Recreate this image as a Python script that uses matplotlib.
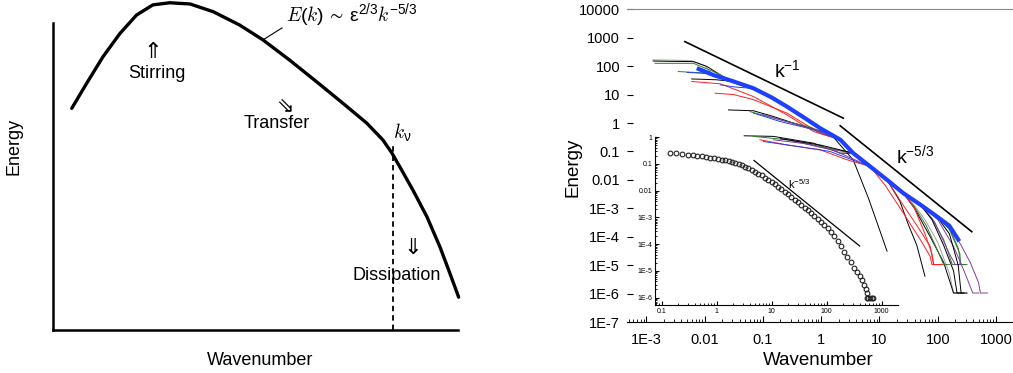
import numpy as np
import matplotlib
matplotlib.use("Agg")
import matplotlib.pyplot as plt

plt.rcParams['font.family'] = ['Liberation Sans', 'DejaVu Sans']
plt.rcParams['mathtext.default'] = 'regular'

# ---- left panel: schematic spectrum (arbitrary units) ----
sketch_k = [0.47, 0.84, 1.24, 1.66, 2.07, 2.47, 2.89, 3.39, 3.96, 4.62, 5.19, 5.85,
            6.52, 7.16, 7.75, 8.15, 8.37, 8.57, 8.89, 9.24, 9.56, 9.80, 10.02]
sketch_E = [7.22, 8.04, 8.90, 9.66, 10.26, 10.59, 10.66, 10.62, 10.37, 9.93, 9.45, 8.79,
            8.08, 7.39, 6.74, 6.19, 5.77, 5.31, 4.56, 3.68, 2.70, 1.86, 1.07]
k_nu = 8.40

# ---- right panel: measured spectra, read as decades (log10 k, log10 E) ----
master_lk = [-2.4, -2.1, -1.85, -1.5, -1.16, -0.85, -0.59, -0.3, -0.02, 0.33, 0.55,
             0.84, 1.13, 1.41, 1.70, 1.98, 2.2, 2.35]
master_lE = [2.1, 1.9, 1.69, 1.46, 1.22, 0.9, 0.58, 0.2, -0.18, -0.59, -1.06,
             -1.53, -2.0, -2.47, -2.87, -3.28, -3.62, -4.1]

# (colour, head points, master range, tail points)
spectra = [
    ('#a0a0a0', [(-2.89, 2.22), (-2.5, 2.21), (-2.22, 2.19), (-2.0, 2.02)], (-1.85, 1.41),
     [(1.6, -2.9), (1.78, -3.4), (2.0, -4.2), (2.2, -5.3), (2.27, -5.98), (2.5, -5.98)]),
    ('black', [(-2.88, 2.18), (-2.6, 2.17), (-2.19, 2.16), (-1.96, 1.99), (-1.62, 1.55)], (-1.5, 1.13),
     [(1.35, -2.75), (1.5, -3.6), (1.64, -4.3), (1.78, -5.39)]),
    ('#2e7d32', [(-2.85, 2.10), (-2.19, 2.10), (-1.85, 1.81)], (-1.5, 1.98),
     [(2.2, -3.75), (2.38, -4.6), (2.38, -4.98), (2.47, -4.98)]),
    ('#2e7d32', [(-2.45, 1.81), (-1.9, 1.75)], (-1.5, 1.70),
     [(1.9, -3.35), (2.1, -4.1), (2.25, -4.98), (2.38, -4.98)]),
    ('#1f3fff', [(-2.3, 1.78), (-1.95, 1.74)], (-1.5, 1.98),
     [(2.15, -3.6)]),
    ('black', [(-2.22, 1.55), (-1.79, 1.52)], (-1.5, 1.41),
     [(1.6, -3.0), (1.87, -4.0), (2.1, -4.9), (2.27, -5.98), (2.4, -5.98)]),
    ('#ff2020', [(-2.22, 1.46), (-1.73, 1.38), (-1.16, 0.93), (-0.59, 0.29), (-0.13, -0.3)], (0.33, 0.84),
     [(1.1, -2.2), (1.41, -3.17), (1.70, -4.1), (1.87, -4.69), (1.90, -4.98), (2.13, -4.98)]),
    ('#1f3fff', [(-1.73, 1.34), (-1.45, 1.26)], (-1.16, 2.2),
     [(2.3, -3.9), (2.35, -4.15)]),
    ('#ff2020', [(-1.82, 1.05), (-1.5, 1.0), (-1.16, 0.82), (-0.59, 0.35), (-0.02, -0.36)], (0.33, 1.13),
     [(1.41, -2.9), (1.64, -3.6), (1.87, -4.34), (1.93, -4.98), (2.05, -4.98)]),
    ('black', [(-1.59, 0.46), (-1.16, 0.43), (-0.82, 0.23), (-0.3, -0.12), (0.16, -0.38)], None,
     [(0.55, -1.3), (0.81, -2.64), (0.98, -3.63), (1.13, -4.51)]),
    ('#2e7d32', [(-1.22, 0.40), (-0.70, 0.11), (-0.19, -0.14)], (0.33, 1.41),
     [(1.6, -2.95), (1.8, -3.6), (2.0, -4.5), (2.1, -4.98), (2.2, -4.98)]),
    ('#1f3fff', [(-1.16, 0.35), (-0.70, 0.05), (-0.19, -0.2)], (0.33, 1.98),
     [(2.2, -3.7)]),
    ('#8040a0', [(-1.0, 0.3), (-0.6, 0.05), (-0.1, -0.25)], (0.33, 1.70),
     [(1.95, -3.5), (2.2, -4.6), (2.3, -4.98), (2.4, -4.98)]),
    ('black', [(-1.32, -0.45), (-0.82, -0.47), (-0.13, -0.71), (0.33, -1.06)], (0.55, 1.70),
     [(1.9, -3.4), (2.1, -4.3), (2.27, -5.2), (2.33, -5.98), (2.45, -5.98)]),
    ('#2e7d32', [(-1.16, -0.47), (-0.59, -0.59), (-0.02, -0.82)], (0.55, 1.98),
     [(2.2, -3.7), (2.35, -4.4), (2.4, -4.98), (2.5, -4.98)]),
    ('#ff2020', [(-1.05, -0.59), (-0.59, -0.77), (-0.02, -0.94), (0.44, -1.29)], (0.84, 1.41),
     [(1.6, -3.0), (1.78, -3.9), (1.9, -4.6), (1.93, -4.98), (2.05, -4.98)]),
    ('#1f3fff', [(-0.99, -0.65), (-0.42, -0.82), (0.15, -1.0)], (0.84, 2.2),
     [(2.3, -3.95)]),
    ('#8040a0', [(-0.82, -0.59), (-0.3, -0.72), (0.2, -0.95)], (0.84, 1.98),
     [(2.2, -3.6), (2.4, -4.3), (2.56, -4.92), (2.70, -5.62), (2.73, -5.98), (2.85, -5.98)]),
    ('#8040a0', [(-0.5, -0.62), (0.1, -0.9)], (0.55, 1.70),
     [(2.0, -3.4), (2.27, -4.34), (2.45, -5.2), (2.6, -5.98), (2.7, -5.98)]),
    ('black', [(-0.7, -0.55), (0.0, -0.78)], (0.55, 1.98),
     [(2.2, -3.9), (2.35, -5.0), (2.4, -5.98), (2.5, -5.98)]),
]

slope1_k, slope1_E = [0.0046, 2.4], [730, 1.48]
slope53_k, slope53_E = [2.12, 383], [0.8, 1.5e-4]

main_yticks = [1e4, 1e3, 1e2, 1e1, 1, 0.1, 0.01, 1e-3, 1e-4, 1e-5, 1e-6, 1e-7]
main_ylabels = ['10000', '1000', '100', '10', '1', '0.1', '0.01', '1E-3', '1E-4', '1E-5', '1E-6', '1E-7']
main_xticks = [1e-3, 0.01, 0.1, 1, 10, 100, 1000]
main_xlabels = ['1E-3', '0.01', '0.1', '1', '10', '100', '1000']

# inset: single spectrum (circles)
inset_lk = [-0.85, -0.73, -0.62, -0.52, -0.43, -0.35, -0.27, -0.2, -0.12, -0.05, 0.02, 0.09,
            0.15, 0.22, 0.28, 0.34, 0.40, 0.46, 0.52, 0.58, 0.64, 0.70, 0.76, 0.82, 0.88,
            0.94, 1.00, 1.06, 1.12, 1.18, 1.24, 1.30, 1.36, 1.42, 1.48, 1.54, 1.60, 1.66,
            1.72, 1.78, 1.84, 1.90, 1.96, 2.02, 2.08, 2.14, 2.20, 2.26, 2.32, 2.38, 2.44,
            2.50, 2.55, 2.60, 2.64, 2.68, 2.71, 2.73, 2.74, 2.76, 2.79, 2.82, 2.85]
inset_lE = [-0.58, -0.60, -0.63, -0.65, -0.68, -0.70, -0.72, -0.74, -0.77, -0.79, -0.82, -0.84,
            -0.86, -0.89, -0.92, -0.96, -1.00, -1.05, -1.10, -1.16, -1.22, -1.29, -1.36, -1.43,
            -1.51, -1.59, -1.67, -1.76, -1.85, -1.94, -2.04, -2.14, -2.24, -2.34, -2.44, -2.54,
            -2.64, -2.74, -2.84, -2.94, -3.05, -3.16, -3.28, -3.40, -3.54, -3.70, -3.88, -4.08,
            -4.28, -4.48, -4.68, -4.88, -5.04, -5.20, -5.36, -5.52, -5.68, -5.84, -6.0, -6.02,
            -6.02, -6.02, -6.02]
inset_slope_k, inset_slope_E = [4.8, 400], [0.135, 8.5e-5]
inset_xticks = [0.1, 1, 10, 100, 1000]
inset_xlabels = ['0.1', '1', '10', '100', '1000']
inset_yticks = [1, 0.1, 0.01, 1e-3, 1e-4, 1e-5, 1e-6]
inset_ylabels = ['1', '0.1', '0.01', '1E-3', '1E-4', '1E-5', '1E-6']


def build(head, rng, tail):
    lk = [p[0] for p in head]
    lE = [p[1] for p in head]
    if rng is not None:
        for a, b in zip(master_lk, master_lE):
            if rng[0] <= a <= rng[1]:
                lk.append(a)
                lE.append(b)
    lk += [p[0] for p in tail]
    lE += [p[1] for p in tail]
    return 10.0 ** np.array(lk), 10.0 ** np.array(lE)


fig = plt.figure(figsize=(10.13, 3.73), dpi=100)

# ---------------- left ----------------
ax = fig.add_axes([52.7 / 1013, 43 / 373, 417.3 / 1013, 330 / 373])
ax.set_xlim(0, 10.3)
ax.set_ylim(0, 10.75)
ax.plot(sketch_k, sketch_E, color='black', lw=2.4, solid_capstyle='round', clip_on=False)
ax.plot([k_nu, k_nu], [0, 6.09], color='black', lw=1.3, ls=(0, (3, 2.2)))
for s in ['top', 'right']:
    ax.spines[s].set_visible(False)
for s in ['left', 'bottom']:
    ax.spines[s].set_linewidth(1.8)
ax.spines['left'].set_bounds(0, 10)
ax.spines['bottom'].set_bounds(0, 10)
ax.set_xticks([])
ax.set_yticks([])
ax.set_xlabel('Wavenumber', fontsize=13)
ax.set_ylabel('Energy', fontsize=13)
ax.xaxis.set_label_coords(0.497, -0.066)
ax.yaxis.set_label_coords(-0.072, 0.555)

arrow_font = ['DejaVu Sans']
ax.text(2.48, 9.05, '\u21d1', ha='center', va='center', fontsize=16, family=arrow_font)
ax.text(2.57, 8.37, 'Stirring', ha='center', va='center', fontsize=13)
ax.text(5.73, 7.33, '\u21d8', ha='center', va='center', fontsize=15, family=arrow_font)
ax.text(5.53, 6.74, 'Transfer', ha='center', va='center', fontsize=13)
ax.text(8.89, 2.67, '\u21d3', ha='center', va='center', fontsize=16, family=arrow_font)
ax.text(8.49, 1.79, 'Dissipation', ha='center', va='center', fontsize=13)
ax.text(8.62, 6.45, r'$\mathit{k}_{\nu}$', ha='center', va='center', fontsize=14,
        math_fontfamily='cm')
ax.text(7.38, 10.26, r'$\mathit{E}(\mathit{k})\,\sim\,\varepsilon^{2/3}\mathit{k}^{-5/3}$',
        ha='center', va='center', fontsize=14, math_fontfamily='cm')
ax.plot([5.19, 5.66], [9.45, 9.84], color='black', lw=0.8)

# ---------------- right ----------------
# inset drawn underneath the main axes, so the main spectra run across it
ax3 = fig.add_axes([655 / 1013, 68 / 373, 243 / 1013, 168 / 373])
ax3.set_zorder(1)
ax3.set_xscale('log')
ax3.set_yscale('log')
ax3.set_xlim(10 ** -1.12, 10 ** 3.3)
ax3.set_ylim(10 ** -6.28, 10 ** 0.01)
ax3.plot(10.0 ** np.array(inset_lk), 10.0 ** np.array(inset_lE), 'o', ms=3.4,
         mfc='none', mec='#222222', mew=0.8)
ax3.plot(inset_slope_k, inset_slope_E, color='black', lw=0.9)
ax3.text(32, 0.018, r'$k^{-5/3}$', ha='center', va='center', fontsize=8)
ax3.spines['top'].set_visible(False)
ax3.spines['right'].set_visible(False)
ax3.set_xticks(inset_xticks, inset_xlabels)
ax3.set_yticks(inset_yticks, inset_ylabels)
ax3.tick_params(axis='both', which='both', direction='in', labelsize=5, top=False, right=False)
ax3.tick_params(which='major', length=3, pad=2)
ax3.tick_params(which='minor', length=1.5)

ax2 = fig.add_axes([627 / 1013, 51 / 373, 386 / 1013, 312.7 / 373])
ax2.set_zorder(2)
ax2.patch.set_visible(False)
ax2.set_xscale('log')
ax2.set_yscale('log')
ax2.set_xlim(10 ** -3.33, 10 ** 3.29)
ax2.set_ylim(1e-7, 1e4)

for color, head, rng, tail in spectra:
    k, E = build(head, rng, tail)
    ax2.plot(k, E, color=color, lw=0.7)
band_lk = np.array(master_lk[1:])
band_lE = np.array(master_lE[1:])
ax2.plot(10.0 ** band_lk, 10.0 ** band_lE, color='#1f3fff', lw=3.0)

ax2.plot(slope1_k, slope1_E, color='black', lw=1.2)
ax2.plot(slope53_k, slope53_E, color='black', lw=1.2)
ax2.text(0.26, 74, r'$k^{-1}$', ha='center', va='center', fontsize=14)
ax2.text(41, 0.076, r'$k^{-5/3}$', ha='center', va='center', fontsize=14)

ax2.spines['right'].set_visible(False)
ax2.spines['left'].set_visible(False)
ax2.spines['top'].set_color('#888888')
ax2.set_yticks(main_yticks, main_ylabels)
ax2.set_xticks(main_xticks, main_xlabels)
ax2.tick_params(axis='both', which='both', direction='in', labelsize=10.5, top=False, right=False)
ax2.tick_params(axis='y', which='major', length=4, pad=5)
ax2.tick_params(axis='x', which='major', length=4, pad=8)
ax2.tick_params(which='minor', length=2)
ax2.set_xlabel('Wavenumber', fontsize=13.5)
ax2.set_ylabel('Energy', fontsize=13.5)
ax2.xaxis.set_label_coords(0.495, -0.096)
ax2.yaxis.set_label_coords(-0.117, 0.496)

fig.savefig('out.png', dpi=100)
